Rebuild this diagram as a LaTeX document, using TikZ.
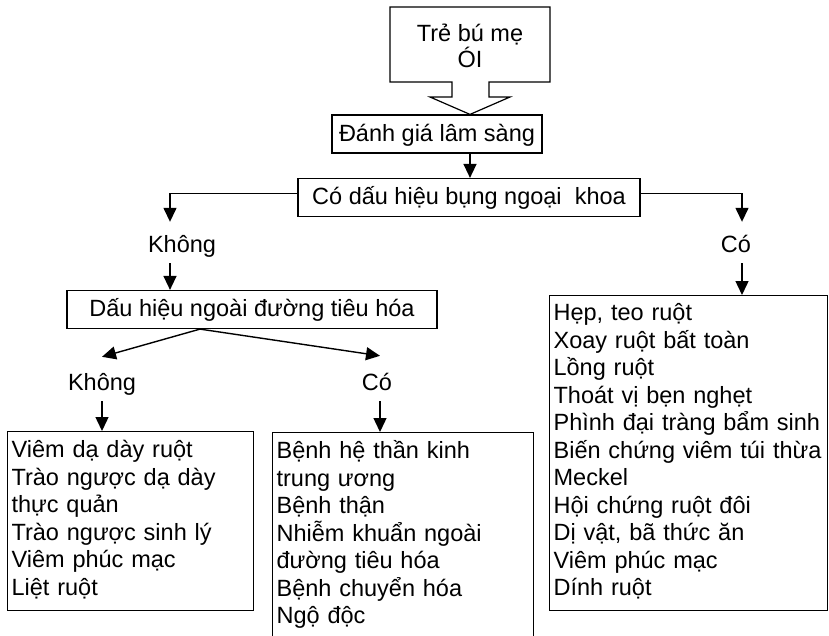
\documentclass[tikz,border=0pt]{standalone}
\usepackage{fontspec}
\setmainfont{Liberation Sans}
\usetikzlibrary{arrows.meta}
\tikzset{
    arr/.style={line width=1.4pt, -{Triangle[length=14pt,width=13pt]}},
    box/.style={draw, line width=1.2pt, inner xsep=0pt, inner ysep=5pt, text height=21pt, text depth=7pt},
    listbox/.style={draw, line width=1.2pt, anchor=north west, align=left, inner xsep=4pt, inner ysep=0pt},
    lbl/.style={anchor=base, inner xsep=0pt, inner ysep=6pt, text height=18pt, text depth=5pt}
}
\begin{document}
\begin{tikzpicture}[x=1pt, y=-1pt, font=\fontsize{23.5}{27.5}\selectfont]
    \clip (0,0) rectangle (829,635);
    \fill[white] (0,0) rectangle (829,635);

    \node[align=center] (tre) at (470,46) {Trẻ bú mẹ\\[-2pt]ÓI};
    \node[box, minimum width=210pt] (danhgia) at (437,134) {Đánh giá lâm sàng};
    \node[box, minimum width=342pt] (codau) at (469,197.5) {Có dấu hiệu bụng ngoại\ \ khoa};
    \node[box, minimum width=370pt] (dauhieu) at (252,309.5) {Dấu hiệu ngoài đường tiêu hóa};

    \node[lbl] (khong1) at (182,252) {Không};
    \node[lbl] (co1) at (736,252) {Có};
    \node[lbl] (khong2) at (102,390) {Không};
    \node[lbl] (co2) at (377,390) {Có};

    \node[listbox, text width=238pt, text height=26pt, text depth=153pt] (noikhoa) at (7,431)
        {Viêm dạ dày ruột\\Trào ngược dạ dày\\thực quản\\Trào ngược sinh lý\\Viêm phúc mạc\\Liệt ruột};
    \node[listbox, text width=253pt, text height=26pt, text depth=230pt] (benhkhac) at (272,432)
        {Bệnh hệ thần kinh\\trung ương\\Bệnh thận\\Nhiễm khuẩn ngoài\\đường tiêu hóa\\Bệnh chuyển hóa\\Ngộ độc};
    \node[listbox, text width=270pt, text height=25pt, text depth=290pt] (ngoaikhoa) at (549,295)
        {Hẹp, teo ruột\\Xoay ruột bất toàn\\Lồng ruột\\Thoát vị bẹn nghẹt\\Phình đại tràng bẩm sinh\\Biến chứng viêm túi thừa\\Meckel\\Hội chứng ruột đôi\\Dị vật, bã thức ăn\\Viêm phúc mạc\\Dính ruột};

    \draw[line width=1.2pt] (390,7) -- (550,7) -- (550,82) -- (489,82) -- (489,97) -- (510,97)
        -- (danhgia.north -| tre) -- (430,97) -- (452,97) -- (452,82) -- (390,82) -- cycle;
    \draw[arr] (danhgia.south -| tre) -- (codau.north -| tre);
    \draw[arr] ([yshift=4pt]codau.west) -| ([xshift=-12pt,yshift=6pt]khong1.north);
    \draw[arr] ([xshift=-12pt]khong1.south) -- ([xshift=-12pt]khong1.south |- dauhieu.north);
    \draw[arr] ([yshift=4pt]codau.east) -| ([xshift=6pt,yshift=6pt]co1.north);
    \draw[arr] ([xshift=6pt]co1.south) -- ([xshift=6pt]co1.south |- ngoaikhoa.north);
    \draw[arr] ([xshift=-52pt]dauhieu.south) -- ([yshift=9pt]khong2.north);
    \draw[arr] ([xshift=-52pt]dauhieu.south) -- ([xshift=3pt,yshift=10pt]co2.north);
    \draw[arr] (khong2.south) -- (khong2.south |- noikhoa.north);
    \draw[arr] ([xshift=3pt]co2.south) -- ([xshift=3pt]co2.south |- benhkhac.north);
\end{tikzpicture}
\end{document}
